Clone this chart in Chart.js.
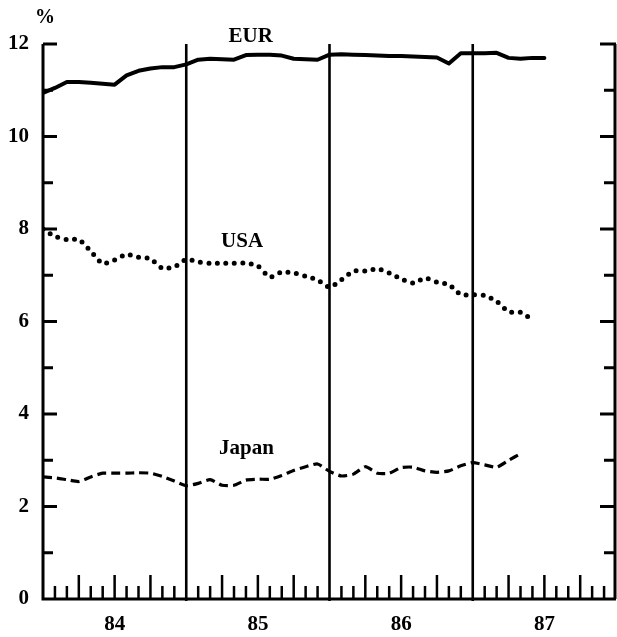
<!DOCTYPE html>
<html><head><meta charset="utf-8">
<script src="https://cdn.jsdelivr.net/npm/chart.js@4/dist/chart.umd.min.js"></script>
<style>html,body{margin:0;padding:0;background:#fff}canvas{display:block}</style>
</head><body>
<canvas id="c" width="617" height="637"></canvas>
<script>
// Monthly observations, starting January 1984
const startYear = 84;
const eur = [10.94,11.05,11.18,11.18,11.16,11.14,11.12,11.32,11.42,11.47,11.50,11.50,
             11.56,11.66,11.68,11.67,11.66,11.76,11.77,11.77,11.75,11.68,11.67,11.66,
             11.77,11.78,11.77,11.76,11.75,11.74,11.74,11.73,11.72,11.71,11.58,11.80,
             11.80,11.80,11.81,11.70,11.68,11.70,11.70];
const usa = [8.00,7.84,7.77,7.77,7.52,7.25,7.33,7.45,7.39,7.36,7.15,7.18,
             7.34,7.29,7.26,7.26,7.26,7.26,7.20,6.96,7.07,7.05,6.98,6.90,
             6.74,6.90,7.09,7.09,7.14,7.05,6.92,6.83,6.94,6.85,6.80,6.58,
             6.58,6.56,6.44,6.21,6.20,6.04];
const japan = [2.64,2.62,2.58,2.54,2.64,2.72,2.72,2.72,2.73,2.72,2.65,2.55,
               2.45,2.50,2.58,2.46,2.46,2.57,2.59,2.59,2.67,2.78,2.86,2.92,
               2.76,2.66,2.70,2.86,2.72,2.72,2.84,2.85,2.77,2.74,2.77,2.88,
               2.95,2.90,2.85,3.00,3.14];
const yearLabels = ['84','85','86','87'];
const yTicks = [0,2,4,6,8,10,12];
const seriesNames = ['EUR','USA','Japan'];
const seriesLabelPos = [[85.45,12.15],[85.39,7.72],[85.42,3.26]];

const toXY = arr => arr.map((v,i)=>({x: startYear + i/12, y: v}));
const FONT = '"Liberation Serif", "DejaVu Serif", serif';

const framePlugin = {
  id:'frame',
  afterDraw(chart){
    const {ctx, chartArea:a, scales:{x,y}} = chart;
    ctx.save();
    ctx.strokeStyle = '#000';
    ctx.lineCap = 'butt';
    // axes
    ctx.lineWidth = 3;
    ctx.beginPath();
    ctx.moveTo(a.left, a.top); ctx.lineTo(a.left, a.bottom);
    ctx.moveTo(a.left-1.5, a.bottom); ctx.lineTo(a.right, a.bottom);
    ctx.moveTo(a.right-1, a.top); ctx.lineTo(a.right-1, a.bottom);
    ctx.stroke();
    // y ticks (inward, both sides)
    ctx.lineWidth = 2.8;
    ctx.beginPath();
    for(let v=1; v<=12; v++){
      const py = y.getPixelForValue(v);
      const len = (v%2===0) ? 14 : 10;
      ctx.moveTo(a.left, py); ctx.lineTo(a.left+len, py);
      ctx.moveTo(a.right, py); ctx.lineTo(a.right-len-2, py);
    }
    ctx.stroke();
    // month ticks on bottom axis
    ctx.lineWidth = 2.5;
    ctx.beginPath();
    for(let m=1; m<48; m++){
      if(m%12===0) continue;
      const px = x.getPixelForValue(startYear + m/12);
      const len = (m%3===0) ? 24 : 13;
      ctx.moveTo(px, a.bottom); ctx.lineTo(px, a.bottom-len);
    }
    ctx.stroke();
    // year separators
    ctx.lineWidth = 2.6;
    ctx.beginPath();
    for(let yr=startYear+1; yr<startYear+4; yr++){
      const px = x.getPixelForValue(yr);
      ctx.moveTo(px, y.getPixelForValue(12)); ctx.lineTo(px, a.bottom+2);
    }
    ctx.stroke();
    // texts
    ctx.fillStyle = '#000';
    ctx.textAlign = 'center';
    ctx.textBaseline = 'middle';
    ctx.font = 'bold 21px ' + FONT;
    seriesNames.forEach((n,i)=>{
      const [vx,vy] = seriesLabelPos[i];
      ctx.fillText(n, x.getPixelForValue(vx), y.getPixelForValue(vy));
    });
    ctx.font = 'bold 20px ' + FONT;
    ctx.fillText('%', a.left+2, 18);
    ctx.restore();
  }
};

new Chart(document.getElementById('c'), {
  type:'line',
  data:{ datasets:[
    {label:'EUR', data:toXY(eur), borderColor:'#000', borderWidth:4, pointRadius:0, tension:0, borderJoinStyle:'round', borderCapStyle:'round'},
    {label:'USA', data:toXY(usa), borderColor:'#000', borderWidth:5, pointRadius:0, tension:0.2, borderDash:[0,8.5], borderCapStyle:'round'},
    {label:'Japan', data:toXY(japan), borderColor:'#000', borderWidth:3.2, pointRadius:0, tension:0.2, borderDash:[9,5]}
  ]},
  options:{
    responsive:false, animation:false, devicePixelRatio:1,
    layout:{padding:{top:44, right:1, left:0, bottom:0}},
    plugins:{legend:{display:false}, tooltip:{enabled:false}},
    scales:{
      x:{type:'linear', min:84, max:88,
         grid:{display:false, drawTicks:false}, border:{display:false},
         afterBuildTicks(s){ s.ticks = yearLabels.map((l,i)=>({value:startYear+i+0.5})); },
         afterFit(s){ s.height = 38; },
         ticks:{autoSkip:false, maxRotation:0, padding:13, color:'#000',
                font:{family:FONT, size:21, weight:'bold'},
                callback:(v,i)=>yearLabels[i]}
      },
      y:{min:0, max:12,
         grid:{display:false, drawTicks:false}, border:{display:false},
         afterBuildTicks(s){ s.ticks = yTicks.map(v=>({value:v})); },
         afterFit(s){ s.width = 43; },
         ticks:{padding:14, color:'#000', font:{family:FONT, size:21, weight:'bold'}}
      }
    }
  },
  plugins:[framePlugin]
});
</script>
</body></html>
